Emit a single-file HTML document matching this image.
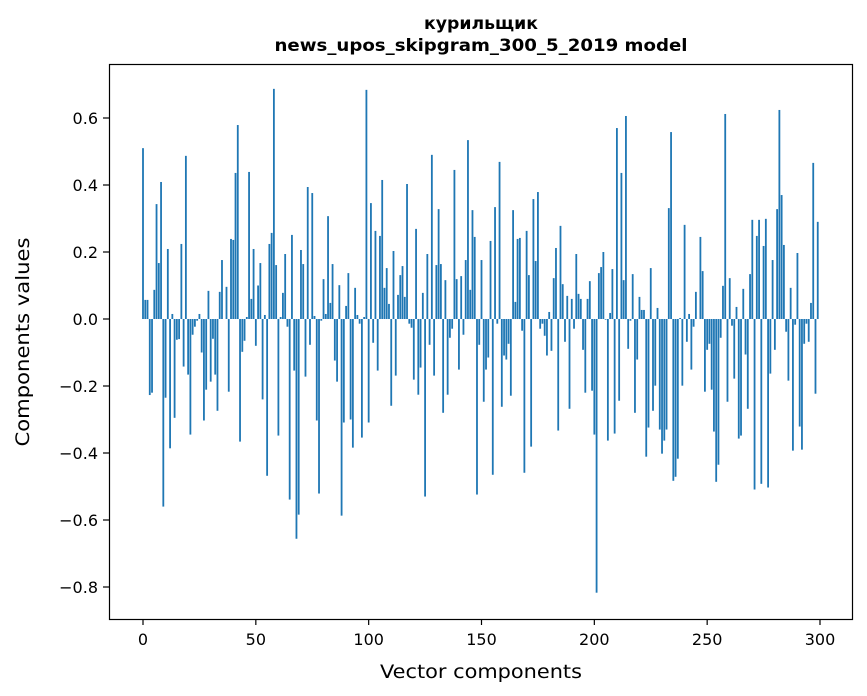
<!DOCTYPE html>
<html><head><meta charset="utf-8">
<style>
body{margin:0;background:#fff;}
svg{display:block;font-family:"DejaVu Sans","Liberation Sans",sans-serif;}
</style></head>
<body>
<svg id="chart" width="867" height="696" viewBox="0 0 867 696" xmlns="http://www.w3.org/2000/svg">
<rect width="867" height="696" fill="#fff"/>
<text x="481" y="29" text-anchor="middle" font-size="17" font-weight="bold" textLength="114" lengthAdjust="spacingAndGlyphs">курильщик</text>
<text x="481" y="51" text-anchor="middle" font-size="17" font-weight="bold" textLength="413" lengthAdjust="spacingAndGlyphs">news_upos_skipgram_300_5_2019 model</text>
<g id="bars"></g>
<g id="axes"></g>
<rect x="109.5" y="64.5" width="743" height="555" fill="none" stroke="#000" stroke-width="1.2"/>
<text x="481" y="678" text-anchor="middle" font-size="19" textLength="202" lengthAdjust="spacingAndGlyphs">Vector components</text>
<text x="0" y="0" transform="translate(29,342) rotate(-90)" text-anchor="middle" font-size="19" textLength="209" lengthAdjust="spacingAndGlyphs">Components values</text>
</svg>
<script>
const values = [
0.51,0.057,0.057,-0.227,-0.22,0.087,0.343,0.167,0.409,-0.56,
-0.235,0.209,-0.386,0.015,-0.295,-0.062,-0.06,0.224,-0.142,0.487,
-0.166,-0.345,-0.047,-0.023,-0.005,0.015,-0.1,-0.303,-0.211,0.084,
-0.187,-0.059,-0.166,-0.274,0.081,0.176,0,0.096,-0.217,0.239,
0.236,0.436,0.579,-0.366,-0.098,-0.065,0.006,0.439,0.06,0.209,
-0.08,0.1,0.167,-0.24,0.012,-0.468,0.224,0.257,0.687,0.161,
-0.348,0.006,0.078,0.194,-0.023,-0.539,0.251,-0.154,-0.656,-0.584,
0.206,0.164,-0.172,0.394,-0.077,0.376,0.009,-0.303,-0.521,-0.005,
0.119,0.015,0.307,0.048,0.164,-0.124,-0.187,0.101,-0.587,-0.309,
0.039,0.137,-0.3,-0.384,0.093,0.012,-0.014,-0.354,0.006,0.684,
-0.309,0.346,-0.071,0.263,-0.154,0.248,0.415,0.093,0.152,0.045,
-0.259,0.203,-0.169,0.072,0.131,0.158,0.066,0.403,-0.014,-0.026,
-0.181,0.269,-0.226,-0.145,0.078,-0.53,0.194,-0.077,0.49,-0.169,
0.161,0.328,0.164,-0.28,0.116,-0.226,-0.056,-0.029,0.445,0.119,
-0.151,0.128,-0.047,0.176,0.534,0.087,0.325,0.245,-0.524,-0.077,
0.176,-0.247,-0.151,-0.115,0.233,-0.465,0.334,-0.014,0.469,-0.262,
-0.109,-0.121,-0.074,-0.229,0.325,0.051,0.239,0.242,-0.035,-0.459,
0.263,0.131,-0.381,0.358,0.173,0.379,-0.029,-0.014,-0.05,-0.109,
0.021,-0.095,0.122,0.212,-0.333,0.278,0.104,-0.068,0.069,-0.268,
0.06,-0.029,0.194,0.075,0.06,-0.092,-0.22,0.06,0.113,-0.214,
-0.345,-0.817,0.137,0.155,0.2,-0.002,-0.363,0.018,0.149,-0.342,
0.57,-0.244,0.436,0.116,0.606,-0.089,-0.005,0.134,-0.28,-0.121,
0.066,0.027,0.027,-0.411,-0.324,0.152,-0.274,-0.199,0.033,-0.33,
-0.402,-0.363,-0.33,0.331,0.558,-0.483,-0.471,-0.417,0.003,-0.199,
0.281,-0.068,0.015,-0.151,-0.023,0.081,0,0.245,0.143,-0.217,
-0.092,-0.074,-0.211,-0.336,-0.486,-0.435,-0.056,0.099,0.612,-0.247,
0.122,-0.02,-0.178,0.036,-0.357,-0.348,0.09,-0.106,-0.268,0.134,
0.296,-0.509,0.248,0.296,-0.492,0.218,0.299,-0.503,-0.163,0.176,
-0.092,0.328,0.624,0.37,0.221,-0.038,-0.184,0.093,-0.393,-0.017,
0.197,-0.321,-0.39,-0.074,-0.014,-0.068,0.048,0.466,-0.223,0.29
];
const xTicks = [0,50,100,150,200,250,300];
const yTicks = [-0.8,-0.6,-0.4,-0.2,0.0,0.2,0.4,0.6];
const yTickLabels = ["\u22120.8","\u22120.6","\u22120.4","\u22120.2","0.0","0.2","0.4","0.6"];

const NS="http://www.w3.org/2000/svg";
function xScale(v){ return 143 + v*(820-143)/300; }
function yScale(v){ return 319 - v*335; }
const barsG=document.getElementById('bars');
const axesG=document.getElementById('axes');
const bw = 0.8*(820-143)/300;
values.forEach((v,i)=>{
  const r=document.createElementNS(NS,'rect');
  
  
  const y0=yScale(0), y1=yScale(v);
  r.setAttribute('x', xScale(i)-bw/2);
  r.setAttribute('y', Math.min(y0,y1));
  r.setAttribute('width', bw);
  r.setAttribute('height', Math.max(Math.abs(y1-y0),0.01));
  r.setAttribute('fill','#1f77b4');
  barsG.appendChild(r);
});
xTicks.forEach(t=>{
  const x=xScale(t);
  const l=document.createElementNS(NS,'line');
  
  
  l.setAttribute('x1',x);l.setAttribute('x2',x);l.setAttribute('y1',619);l.setAttribute('y2',625);
  l.setAttribute('stroke','#000');l.setAttribute('stroke-width','1.2');
  axesG.appendChild(l);
  const tx=document.createElementNS(NS,'text');
  
  
  tx.setAttribute('x',x);tx.setAttribute('y',645);tx.setAttribute('text-anchor','middle');tx.setAttribute('font-size','16');
  tx.textContent=String(t);
  axesG.appendChild(tx);
});
yTicks.forEach((t,k)=>{
  const y=yScale(t);
  const l=document.createElementNS(NS,'line');
  
  
  l.setAttribute('x1',103);l.setAttribute('x2',109);l.setAttribute('y1',y);l.setAttribute('y2',y);
  l.setAttribute('stroke','#000');l.setAttribute('stroke-width','1.2');
  axesG.appendChild(l);
  const tx=document.createElementNS(NS,'text');
  
  
  tx.setAttribute('x',98);tx.setAttribute('y',y+6);tx.setAttribute('text-anchor','end');tx.setAttribute('font-size','16');
  tx.textContent=yTickLabels[k];
  axesG.appendChild(tx);
});
</script>
</body></html>
